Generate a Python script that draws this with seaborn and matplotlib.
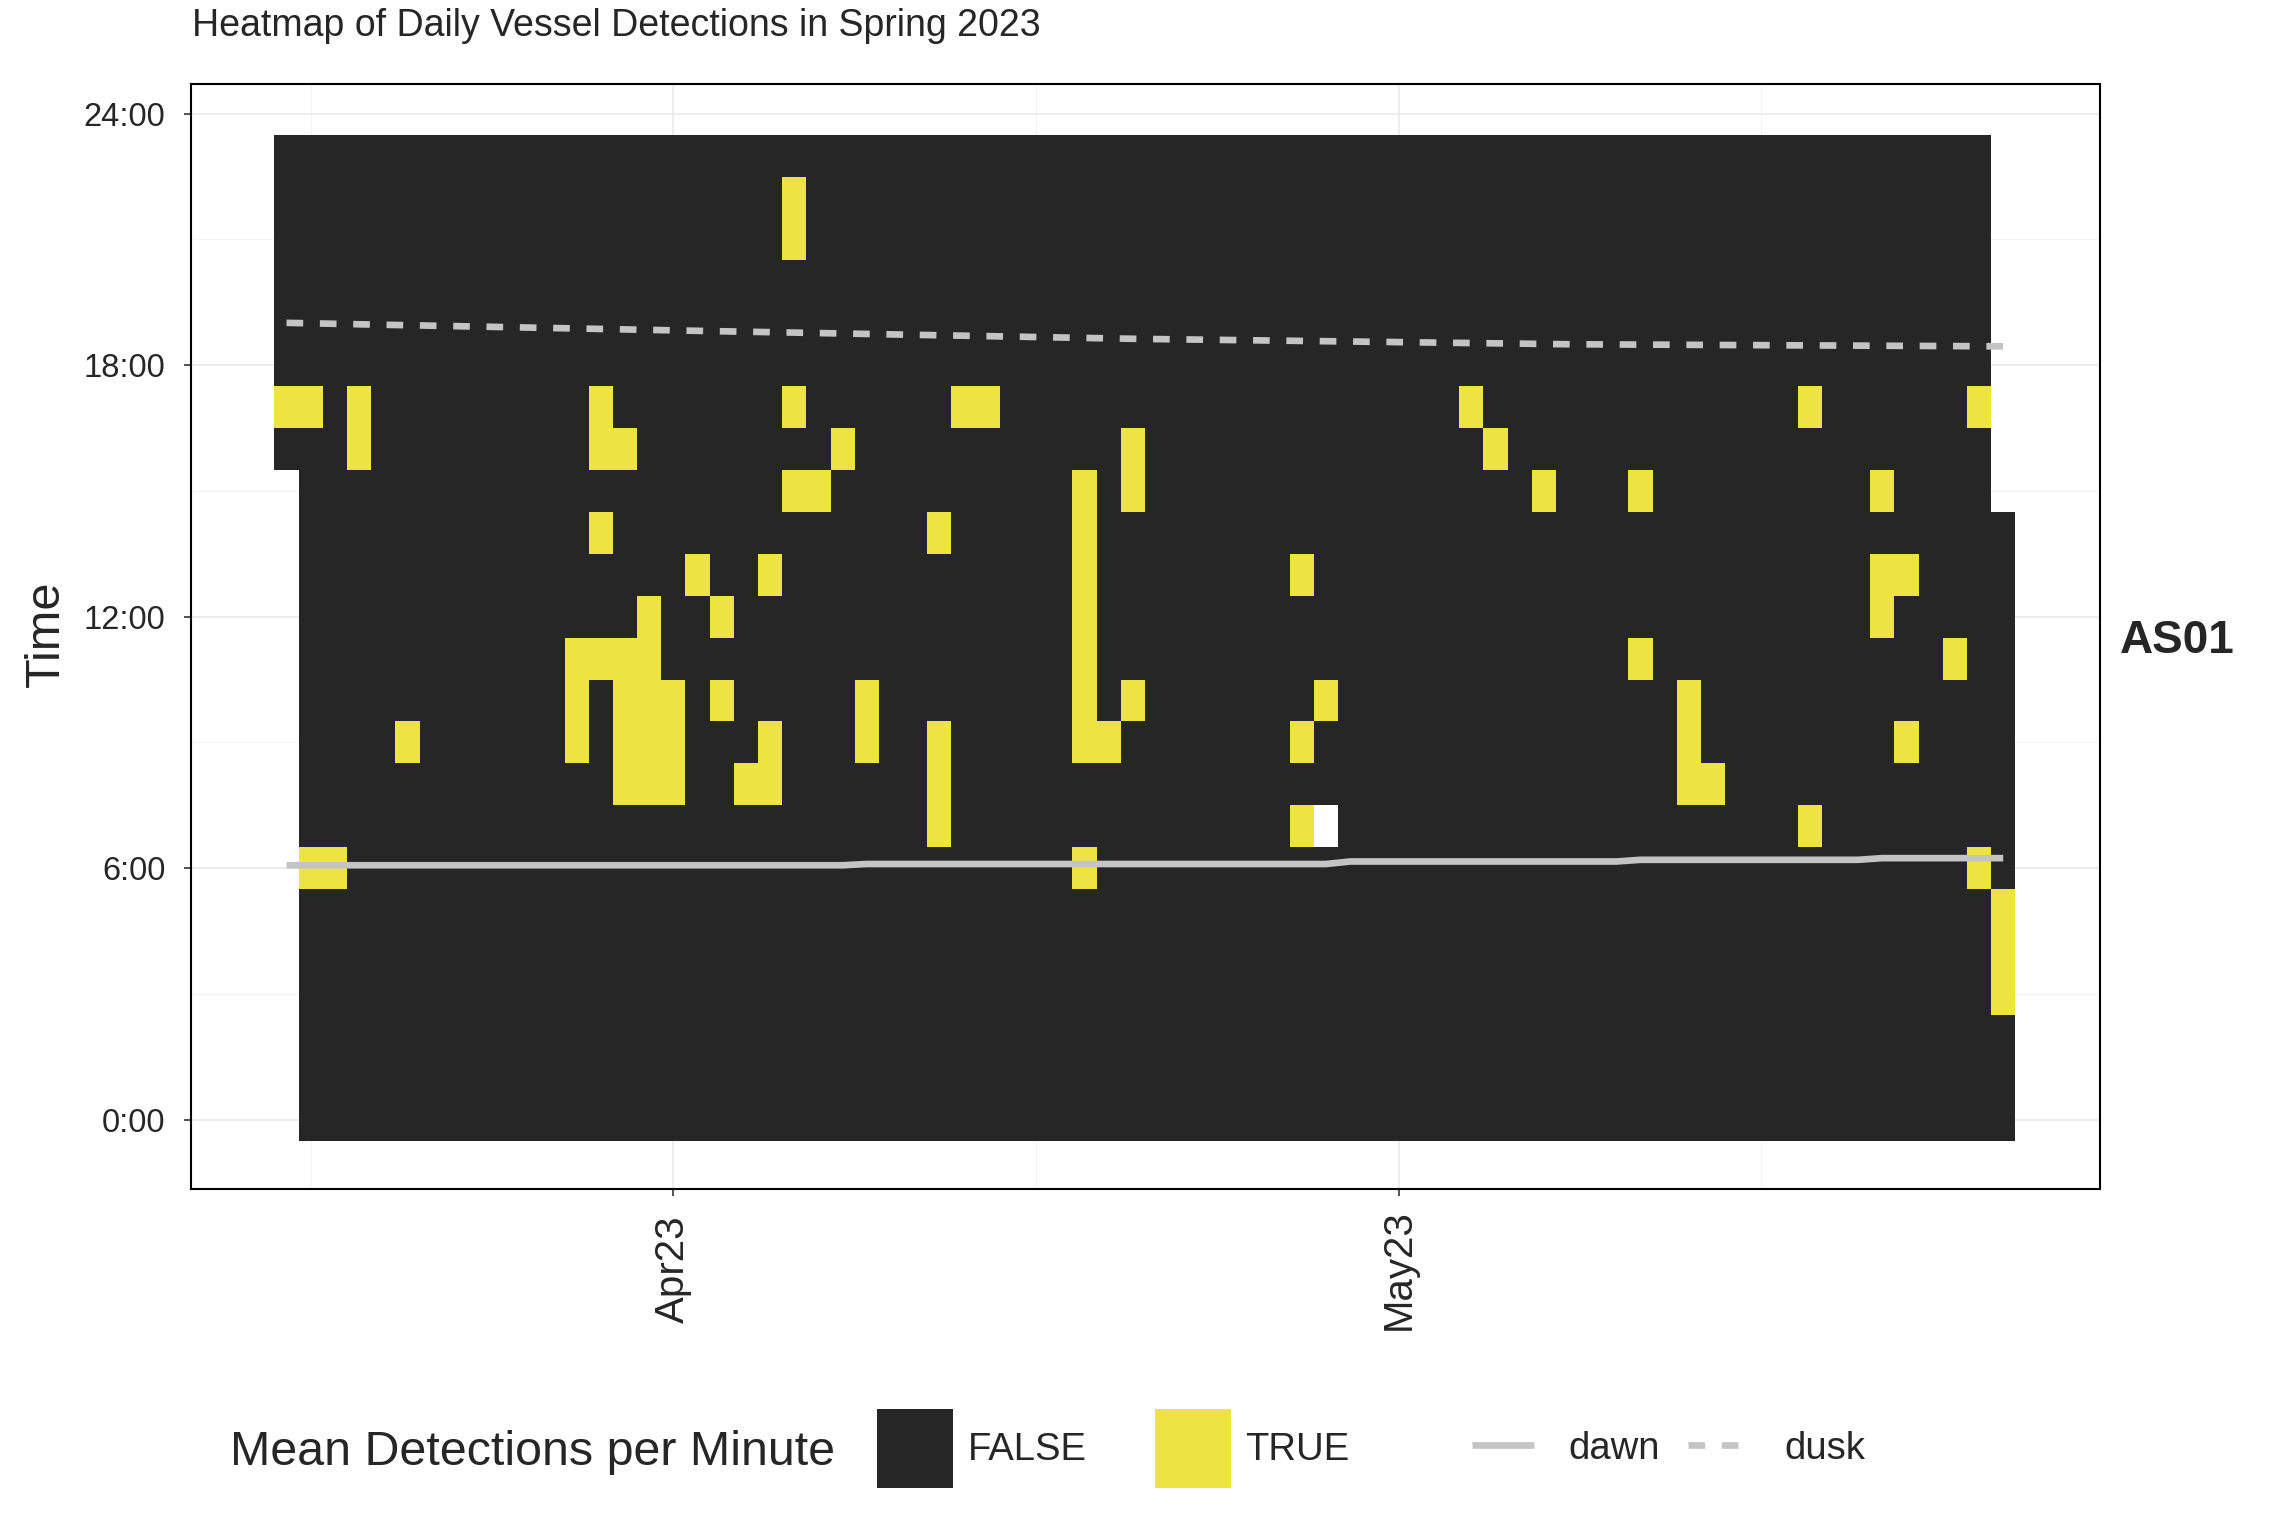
import numpy as np
import pandas as pd
import matplotlib
matplotlib.use("Agg")
import matplotlib.pyplot as plt
import seaborn as sns
from matplotlib.colors import ListedColormap
from matplotlib.patches import Patch
from matplotlib.lines import Line2D

sns.set_theme(style="white")
plt.rcParams['font.family'] = ['Liberation Sans', 'DejaVu Sans']

# ---------------- data ----------------
title = "Heatmap of Daily Vessel Detections in Spring 2023"
site = "AS01"
legend_title = "Mean Detections per Minute"
fill_labels = ["FALSE", "TRUE"]
line_labels = ["dawn", "dusk"]

recording_start = "2023-03-16 16:00"
recording_end = "2023-05-26 14:00"
missing_cells = [("2023-04-28", 7)]

# hours (0-23) with vessel detections, per day
detections = {
    "2023-03-16": [17],
    "2023-03-17": [6, 17],
    "2023-03-18": [6],
    "2023-03-19": [16, 17],
    "2023-03-21": [9],
    "2023-03-28": [9, 10, 11],
    "2023-03-29": [11, 14, 16, 17],
    "2023-03-30": [8, 9, 10, 11, 16],
    "2023-03-31": [8, 9, 10, 11, 12],
    "2023-04-01": [8, 9, 10],
    "2023-04-02": [13],
    "2023-04-03": [10, 12],
    "2023-04-04": [8],
    "2023-04-05": [8, 9, 13],
    "2023-04-06": [15, 17, 21, 22],
    "2023-04-07": [15],
    "2023-04-08": [16],
    "2023-04-09": [9, 10],
    "2023-04-12": [7, 8, 9, 14],
    "2023-04-13": [17],
    "2023-04-14": [17],
    "2023-04-18": [6, 9, 10, 11, 12, 13, 14, 15],
    "2023-04-19": [9],
    "2023-04-20": [10, 15, 16],
    "2023-04-27": [7, 9, 13],
    "2023-04-28": [10],
    "2023-05-04": [17],
    "2023-05-05": [16],
    "2023-05-07": [15],
    "2023-05-11": [11, 15],
    "2023-05-13": [8, 9, 10],
    "2023-05-14": [8],
    "2023-05-18": [7, 17],
    "2023-05-21": [12, 13, 15],
    "2023-05-22": [9, 13],
    "2023-05-24": [11],
    "2023-05-25": [6, 17],
    "2023-05-26": [3, 4, 5],
}

dawn_dates = ["2023-03-16", "2023-04-08", "2023-04-09", "2023-04-28", "2023-04-29",
              "2023-05-10", "2023-05-11", "2023-05-20", "2023-05-21", "2023-05-26"]
dawn_hours = [6.07, 6.07, 6.10, 6.10, 6.16, 6.16, 6.20, 6.20, 6.24, 6.24]

dusk_dates = ["2023-03-16", "2023-04-02", "2023-04-20", "2023-05-08", "2023-05-26"]
dusk_hours = [19.01, 18.82, 18.63, 18.50, 18.45]

x_tick_dates = ["2023-04-01", "2023-05-01"]
x_tick_labels = ["Apr23", "May23"]
x_minor_dates = ["2023-03-17", "2023-04-16", "2023-05-16"]
y_ticks = [0, 6, 12, 18, 24]
y_tick_labels = ["0:00", "6:00", "12:00", "18:00", "24:00"]
y_minor = [3, 9, 15, 21]

false_color = "#262626"
true_color = "#EDE443"
line_color = "#C4C4C4"

# ---------------- table ----------------
stamps = pd.date_range(recording_start, recording_end, freq="h")
df = pd.DataFrame({"date": stamps.normalize(), "hour": stamps.hour})
det_set = {(pd.Timestamp(d), h) for d, hs in detections.items() for h in hs}
miss_set = {(pd.Timestamp(d), h) for d, h in missing_cells}
df["detected"] = [1.0 if (d, h) in det_set else 0.0 for d, h in zip(df["date"], df["hour"])]
df = df[[(d, h) not in miss_set for d, h in zip(df["date"], df["hour"])]]
all_dates = pd.date_range(stamps[0].normalize(), stamps[-1].normalize(), freq="D")
grid = df.pivot(index="hour", columns="date", values="detected").reindex(
    index=range(24), columns=all_dates)
origin = all_dates[0]


def xpos(d):
    return (pd.Timestamp(d) - origin) / pd.Timedelta(days=1) + 0.5


def ypos(t):
    return t + 0.5


# ---------------- figure ----------------
fig = plt.figure(figsize=(22.85, 15.34), dpi=100)
ax = fig.add_axes([0.0836, 0.225, 0.919 - 0.0836, 0.945 - 0.225])
ax.set_facecolor("white")

sns.heatmap(grid, ax=ax, cmap=ListedColormap([false_color, true_color]),
            vmin=0, vmax=1, cbar=False, xticklabels=False, yticklabels=False)

lw = 4.8
sns.lineplot(x=[xpos(d) for d in dawn_dates], y=[ypos(h) for h in dawn_hours],
             ax=ax, color=line_color, linewidth=lw, legend=False,
             solid_capstyle="butt", zorder=3)
sns.lineplot(x=[xpos(d) for d in dusk_dates], y=[ypos(h) for h in dusk_hours],
             ax=ax, color=line_color, linewidth=lw, legend=False,
             linestyle=(0, (2.5, 2.5)), dash_capstyle="butt", zorder=3)

ax.set_xlim(-3.45, 75.5)
ax.set_ylim(-1.15, 25.2)

ax.set_xticks([xpos(d) for d in x_tick_dates])
ax.set_xticks([xpos(d) for d in x_minor_dates], minor=True)
ax.set_xticklabels(x_tick_labels, rotation=90, fontsize=29, va="center", ha="center")
ax.set_yticks([ypos(t) for t in y_ticks])
ax.set_yticks([ypos(t) for t in y_minor], minor=True)
ax.set_yticklabels(y_tick_labels, fontsize=23.5)
ax.set_xlabel("")
ax.set_ylabel("")

ax.set_axisbelow(True)
ax.grid(True, which="major", color="#EBEBEB", linewidth=1.3)
ax.grid(True, which="minor", color="#F3F3F3", linewidth=0.7)
ax.tick_params(axis="both", which="major", length=5, width=1.2, color="#333333",
               direction="out", bottom=True, left=True)
ax.tick_params(axis="x", which="major", pad=53)
ax.tick_params(axis="y", which="major", pad=13.5)
ax.tick_params(axis="both", which="minor", length=0)
for s in ax.spines.values():
    s.set_visible(True)
    s.set_color("black")
    s.set_linewidth(1.5)

fig.text(0.084, 0.983, title, fontsize=27, ha="left", va="center")
fig.text(0.0201, 0.587, "Time", fontsize=35, rotation=90, ha="center", va="center")
fig.text(0.9527, 0.582, site, fontsize=33, fontweight="bold", ha="center", va="center")

# legend
fig.text(230 / 2285, 0.045, legend_title, fontsize=34.8, ha="left", va="baseline")
fill_handles = [Patch(facecolor=false_color, edgecolor="none"),
                Patch(facecolor=true_color, edgecolor="none")]
leg1 = fig.legend(fill_handles, fill_labels, loc="center left",
                  bbox_to_anchor=(877 / 2285, 0.0555), ncol=2, frameon=False,
                  fontsize=27.5, handlelength=2.0, handleheight=2.8,
                  handletextpad=0.37, columnspacing=1.78, borderpad=0,
                  borderaxespad=0)
line_handles = [Line2D([], [], color=line_color, linewidth=lw, solid_capstyle="butt"),
                Line2D([], [], color=line_color, linewidth=lw, linestyle=(0, (2.5, 2.5)),
                       dash_capstyle="butt")]
leg2 = fig.legend(line_handles, line_labels, loc="center left",
                  bbox_to_anchor=(1472 / 2285, 0.0555), ncol=2, frameon=False,
                  fontsize=27.5, handlelength=1.63, handletextpad=0.9,
                  columnspacing=0.72, borderpad=0, borderaxespad=0)

fig.savefig("out.png", dpi=100, facecolor="white")
